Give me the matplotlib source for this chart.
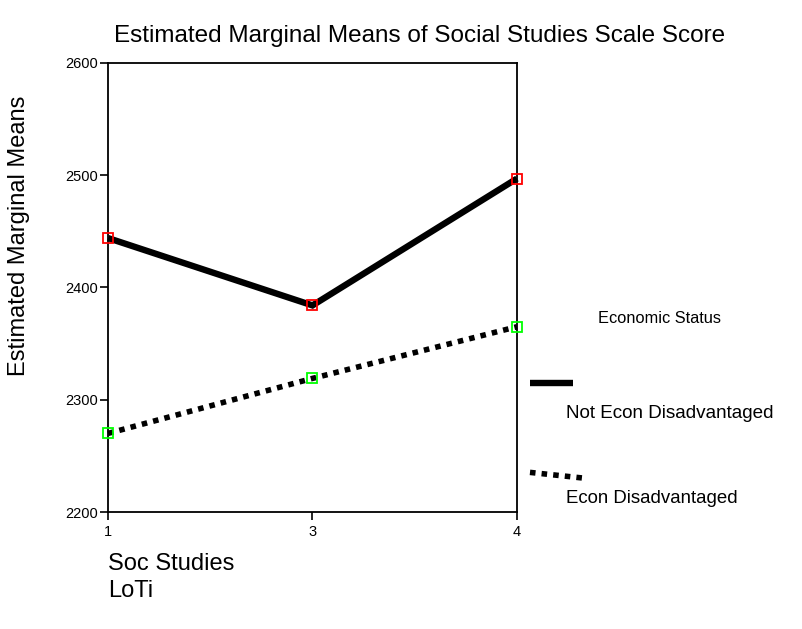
import matplotlib
matplotlib.use('Agg')
import matplotlib.pyplot as plt
from matplotlib.lines import Line2D

plt.rcParams['font.family'] = ['Liberation Sans', 'DejaVu Sans']

# data
loti_levels = ['1', '3', '4']
not_econ_dis = [2444, 2384, 2497]
econ_dis = [2270, 2319, 2365]
series_names = ['Not Econ Disadvantaged', 'Econ Disadvantaged']
y_ticks = [2200, 2300, 2400, 2500, 2600]

fig = plt.figure(figsize=(8.03, 6.29), dpi=100)
ax = fig.add_axes([0.1345, 0.186, 0.5093, 0.714])

xpos = list(range(len(loti_levels)))

# lines
ax.plot(xpos, not_econ_dis, color='black', linewidth=4.6, solid_capstyle='butt',
        solid_joinstyle='miter', clip_on=False, zorder=2)
ax.plot(xpos, econ_dis, color='black', linewidth=4, linestyle=(0, (1, 1.1)),
        dash_capstyle='butt', clip_on=False, zorder=2)

# hollow square markers
ax.plot(xpos, not_econ_dis, linestyle='none', marker='s', markersize=7.5,
        markerfacecolor='none', markeredgecolor='#ff0000', markeredgewidth=1.3,
        clip_on=False, zorder=3)
ax.plot(xpos, econ_dis, linestyle='none', marker='s', markersize=7.5,
        markerfacecolor='none', markeredgecolor='#00ff00', markeredgewidth=1.3,
        clip_on=False, zorder=3)

ax.set_xlim(0, len(loti_levels) - 1)
ax.set_ylim(2200, 2600)
ax.set_xticks(xpos)
ax.set_xticklabels(loti_levels)
ax.set_yticks(y_ticks)
ax.tick_params(direction='out', length=6, width=1.2, labelsize=10.5, pad=1.5)
ax.tick_params(axis='x', pad=3)
for s in ax.spines.values():
    s.set_linewidth(1.3)

fig.text(0.024, 0.625, 'Estimated Marginal Means', fontsize=17, rotation=90,
         ha='center', va='center')
fig.text(0.522, 0.942, 'Estimated Marginal Means of Social Studies Scale Score',
         fontsize=17.5, ha='center', va='center')
fig.text(0.1345, 0.082, 'Soc Studies\nLoTi', fontsize=17, ha='left', va='center',
         linespacing=1.25)

# legend, SPSS style
fig.text(0.745, 0.493, 'Economic Status', fontsize=11.8, ha='left', va='center')
fig.add_artist(Line2D([0.660, 0.714], [0.391, 0.391], color='black',
                      linewidth=4.6, solid_capstyle='butt'))
fig.text(0.705, 0.342, series_names[0], fontsize=13.6, ha='left', va='center')
fig.add_artist(Line2D([0.660, 0.726], [0.249, 0.240], color='black',
                      linewidth=4, linestyle=(0, (1, 1.1)), dash_capstyle='butt'))
fig.text(0.705, 0.207, series_names[1], fontsize=13.4, ha='left', va='center')

fig.savefig('out.png', dpi=100)
